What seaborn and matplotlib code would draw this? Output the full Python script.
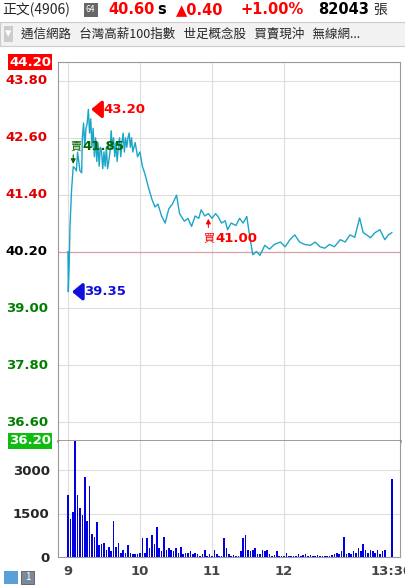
import matplotlib
matplotlib.use("Agg")
import matplotlib.pyplot as plt
import seaborn as sns
import pandas as pd

sns.set_style("white")
plt.rcParams['font.family'] = ['Noto Sans CJK TC', 'DejaVu Sans']

# minutes after 9:00
price_t = [0, 0.3, 1, 1.7, 3, 4.4, 6, 7, 8, 9, 10, 11.4, 12, 13, 14, 15, 16, 17, 18, 19, 20, 21, 22, 23, 24, 25, 26,
           27, 28, 29, 30, 31, 32, 33, 34, 35, 36, 37, 38, 39, 40, 41, 42, 43, 44, 45, 46, 47, 48, 49, 50, 51, 52, 53, 54,
           56, 58, 60, 62, 64, 67, 70, 72.5, 75, 78, 81, 84, 87, 90.5, 93, 97, 100, 103, 106, 109, 111, 114, 117, 120,
           123, 125, 128, 131, 133, 136, 140, 143, 146, 149, 151, 154, 157, 160, 164, 168, 172, 177, 181, 185, 189, 193,
           197, 202, 206, 210, 214, 218, 222, 227, 231, 235, 239, 243, 246, 249, 252, 256, 260, 264, 267, 270]
price_v = [40.20, 39.35, 39.9, 40.73, 41.5, 41.99, 41.95, 41.9, 42.3, 42.1, 41.9, 41.86, 42.6, 42.91, 42.4, 42.8, 42.9, 43.20, 42.7, 43.0, 42.4, 42.8, 42.2, 42.6, 42.1, 42.5, 42.0,
           42.4, 42.3, 41.95, 42.3, 42.0, 42.4, 41.95, 42.1, 42.3, 42.75, 42.4, 42.6, 42.2, 42.5, 42.1, 42.4, 42.6, 42.2, 42.5, 42.7, 42.3, 42.6, 42.4, 42.6, 42.7, 42.4, 42.6, 42.3,
           42.5, 42.2, 42.3, 42.0, 41.85, 41.56, 41.3, 41.14, 41.2, 40.95, 40.8, 41.1, 41.2, 41.39, 41.0, 40.84, 40.9, 40.73, 40.95, 40.9, 41.08, 40.95, 41.0, 40.9,
           41.0, 40.94, 40.8, 40.85, 40.66, 40.8, 40.75, 40.9, 40.8, 40.94, 40.6, 40.13, 40.2, 40.12, 40.33, 40.25, 40.35, 40.4, 40.3, 40.45, 40.55, 40.4,
           40.35, 40.33, 40.4, 40.3, 40.27, 40.35, 40.3, 40.45, 40.4, 40.55, 40.5, 40.91, 40.6, 40.55, 40.49, 40.6, 40.66, 40.45, 40.55, 40.6]

vol_t = list(range(0, 266, 2)) + [270]
vol_v = [2150, 1300, 1550, 4000, 2150, 1700, 1450, 2750, 1250, 2450, 800, 700, 1200, 400, 450, 500, 250, 350, 200, 1250,
         350, 500, 150, 250, 150, 400, 150, 100, 100, 100, 150, 650, 150, 650, 300, 750, 450, 1050, 300, 200,
         700, 250, 300, 250, 200, 300, 150, 350, 100, 150, 150, 200, 100, 150, 100, 50, 100, 250, 50, 100,
         50, 250, 100, 50, 50, 650, 300, 100, 50, 80, 50, 50, 200, 650, 750, 250, 200, 250, 300, 100,
         100, 250, 200, 250, 100, 50, 80, 200, 50, 50, 30, 150, 30, 30, 50, 30, 100, 30, 80, 100,
         50, 80, 30, 30, 80, 50, 50, 30, 30, 50, 80, 100, 150, 100, 200, 700, 100, 150, 100, 200,
         150, 300, 200, 450, 250, 150, 250, 200, 150, 250, 100, 200, 250, 2700]

price_ticks = [44.20, 43.80, 42.60, 41.40, 40.20, 39.00, 37.80, 36.60, 36.20]
vol_ticks = [0, 1500, 3000]
hour_t = [0, 60, 120, 180, 270]
hour_lbl = ["9", "10", "11", "12", "13:30"]

W, H = 406, 585
fig = plt.figure(figsize=(W/100, H/100), dpi=100)
def rect(l, t, r, b):
    return [l/W, 1-b/H, (r-l)/W, (b-t)/H]

x0, x1 = -8.3, 276.7
ax = fig.add_axes(rect(58, 62, 400, 441))
vx = fig.add_axes(rect(58, 441, 400, 557))

df = pd.DataFrame({"t": price_t, "p": price_v})
sns.lineplot(data=df, x="t", y="p", ax=ax, color="#1ba5c8", lw=1.0)
ax.set_xlim(x0, x1); ax.set_ylim(36.2, 44.2)
for y in price_ticks:
    ax.axhline(y, color="#dddddd", lw=0.8, zorder=0)
for t in hour_t[:-1]:
    ax.axvline(t, color="#dddddd", lw=0.8, zorder=0)
    vx.axvline(t, color="#dddddd", lw=0.8, zorder=0)
ax.axhline(40.20, color="#d9a0a8", lw=0.9, zorder=1)
ax.set_xticks([]); ax.set_yticks([]); ax.set_xlabel(""); ax.set_ylabel("")
for s in ax.spines.values():
    s.set_color("#999999"); s.set_linewidth(0.8)
ax.spines['bottom'].set_color("#8a7d70"); ax.spines['bottom'].set_linewidth(1.8)

colors = {44.20: "red", 43.80: "#e00000", 42.60: "#e00000", 41.40: "#e00000", 40.20: "black",
          39.00: "#008000", 37.80: "#008000", 36.60: "#008000", 36.20: "#008000"}
for y in price_ticks:
    if y in (44.20, 36.20):
        bg = "red" if y == 44.2 else "#11bb11"
        ax.text(-0.02, y, f"{y:.2f}", transform=ax.get_yaxis_transform(), ha="right", va="center",
                color="white", fontsize=9.5, fontweight="bold", family="DejaVu Sans",
                bbox=dict(boxstyle="square,pad=0.1", fc=bg, ec="none"))
    else:
        ax.text(-0.03, y, f"{y:.2f}", transform=ax.get_yaxis_transform(), ha="right", va="center",
                color=colors[y], fontsize=9.5, fontweight="bold", family="DejaVu Sans")

# annotations
ax.annotate("", xy=(17, 43.2), xytext=(29, 43.2), arrowprops=dict(arrowstyle="-|>,head_width=0.5,head_length=0.6", color="red", lw=2.5, mutation_scale=10))
ax.text(29.5, 43.2, "43.20", color="red", fontsize=9.5, fontweight="bold", va="center", family="DejaVu Sans")
ax.annotate("", xy=(1, 39.35), xytext=(13, 39.35), arrowprops=dict(arrowstyle="-|>,head_width=0.5,head_length=0.6", color="#1010dd", lw=2.5, mutation_scale=10))
ax.text(13.5, 39.35, "39.35", color="#1010dd", fontsize=9.5, fontweight="bold", va="center", family="DejaVu Sans")
ax.annotate("", xy=(4.4, 41.99), xytext=(4.4, 42.3), arrowprops=dict(arrowstyle="-|>", color="#006600", lw=0.8, mutation_scale=7))
ax.text(2, 42.42, "賣", color="#006600", fontsize=8, va="center")
ax.text(12, 42.42, "41.85", color="#006600", fontsize=9.5, fontweight="bold", va="center", family="DejaVu Sans")
ax.annotate("", xy=(117, 40.95), xytext=(117, 40.65), arrowprops=dict(arrowstyle="-|>", color="red", lw=0.8, mutation_scale=7))
ax.text(113, 40.48, "買", color="red", fontsize=8, va="center")
ax.text(123, 40.48, "41.00", color="red", fontsize=9.5, fontweight="bold", va="center", family="DejaVu Sans")

vx.bar(vol_t, vol_v, width=1.3, color="#0000e0", lw=0)
vx.set_xlim(x0, x1); vx.set_ylim(0, 4000)
for y in vol_ticks[1:]:
    vx.axhline(y, color="#dddddd", lw=0.8, zorder=0)
vx.set_yticks(vol_ticks); vx.set_yticklabels([str(v) for v in vol_ticks], fontsize=9.5, fontweight="bold", family="DejaVu Sans")
vx.set_xticks(hour_t); vx.set_xticklabels(hour_lbl, fontsize=9.5, fontweight="bold", color="#444444", family="DejaVu Sans")
vx.get_xticklabels()[-1].set_horizontalalignment("center")
vx.get_xticklabels()[-1].set_x(268)
vx.tick_params(length=3, color="#999999", pad=3)
for s in vx.spines.values():
    s.set_color("#999999"); s.set_linewidth(0.8)
vx.spines['top'].set_visible(False)

# header
fig.text(2/W, 1-10/H, "正文(4906)", fontsize=10, va="center")
fig.text(86/W, 1-10/H, "64", fontsize=6, va="center", color="white", bbox=dict(boxstyle="square,pad=0.25", fc="#666666", ec="none"))
fig.text(108/W, 1-10/H, "40.60", fontsize=10.5, fontweight="bold", color="red", va="center", family="DejaVu Sans")
fig.text(157/W, 1-10/H, "s", fontsize=10.5, fontweight="bold", color="black", va="center", family="DejaVu Sans")
fig.text(176/W, 1-10/H, "▲0.40", fontsize=10.5, fontweight="bold", color="red", va="center", family="DejaVu Sans")
fig.text(240/W, 1-10/H, "+1.00%", fontsize=10.5, fontweight="bold", color="red", va="center", family="DejaVu Sans")
fig.text(318/W, 1-10/H, "82043", fontsize=10.5, fontweight="bold", color="black", va="center", family="DejaVu Sans")
fig.text(373/W, 1-10/H, "張", fontsize=10, va="center")
fig.patches.append(plt.Rectangle((0, 1-46/H), 1, 24/H, transform=fig.transFigure, fc="#f2f2f2", ec="#cccccc", lw=0.8))
fig.text(5/W, 1-34/H, "▾", fontsize=9, color="white", va="center", bbox=dict(boxstyle="square,pad=0.1", fc="#cccccc", ec="none"))
fig.text(21/W, 1-34/H, "通信網路   台灣高薪100指數   世足概念股   買賣現沖   無線網...", fontsize=9, va="center")

# bottom-left icons
fig.patches.append(plt.Rectangle((4/W, 1-584/H), 14/W, 13/H, transform=fig.transFigure, fc="#5aa0d8", ec="none"))
fig.patches.append(plt.Rectangle((21/W, 1-584/H), 13/W, 13/H, transform=fig.transFigure, fc="#7a8a9a", ec="#444444", lw=0.5))
fig.text(27.5/W, 1-577/H, "1", fontsize=7, color="white", ha="center", va="center")

fig.savefig("out.png", dpi=100, facecolor="white")
